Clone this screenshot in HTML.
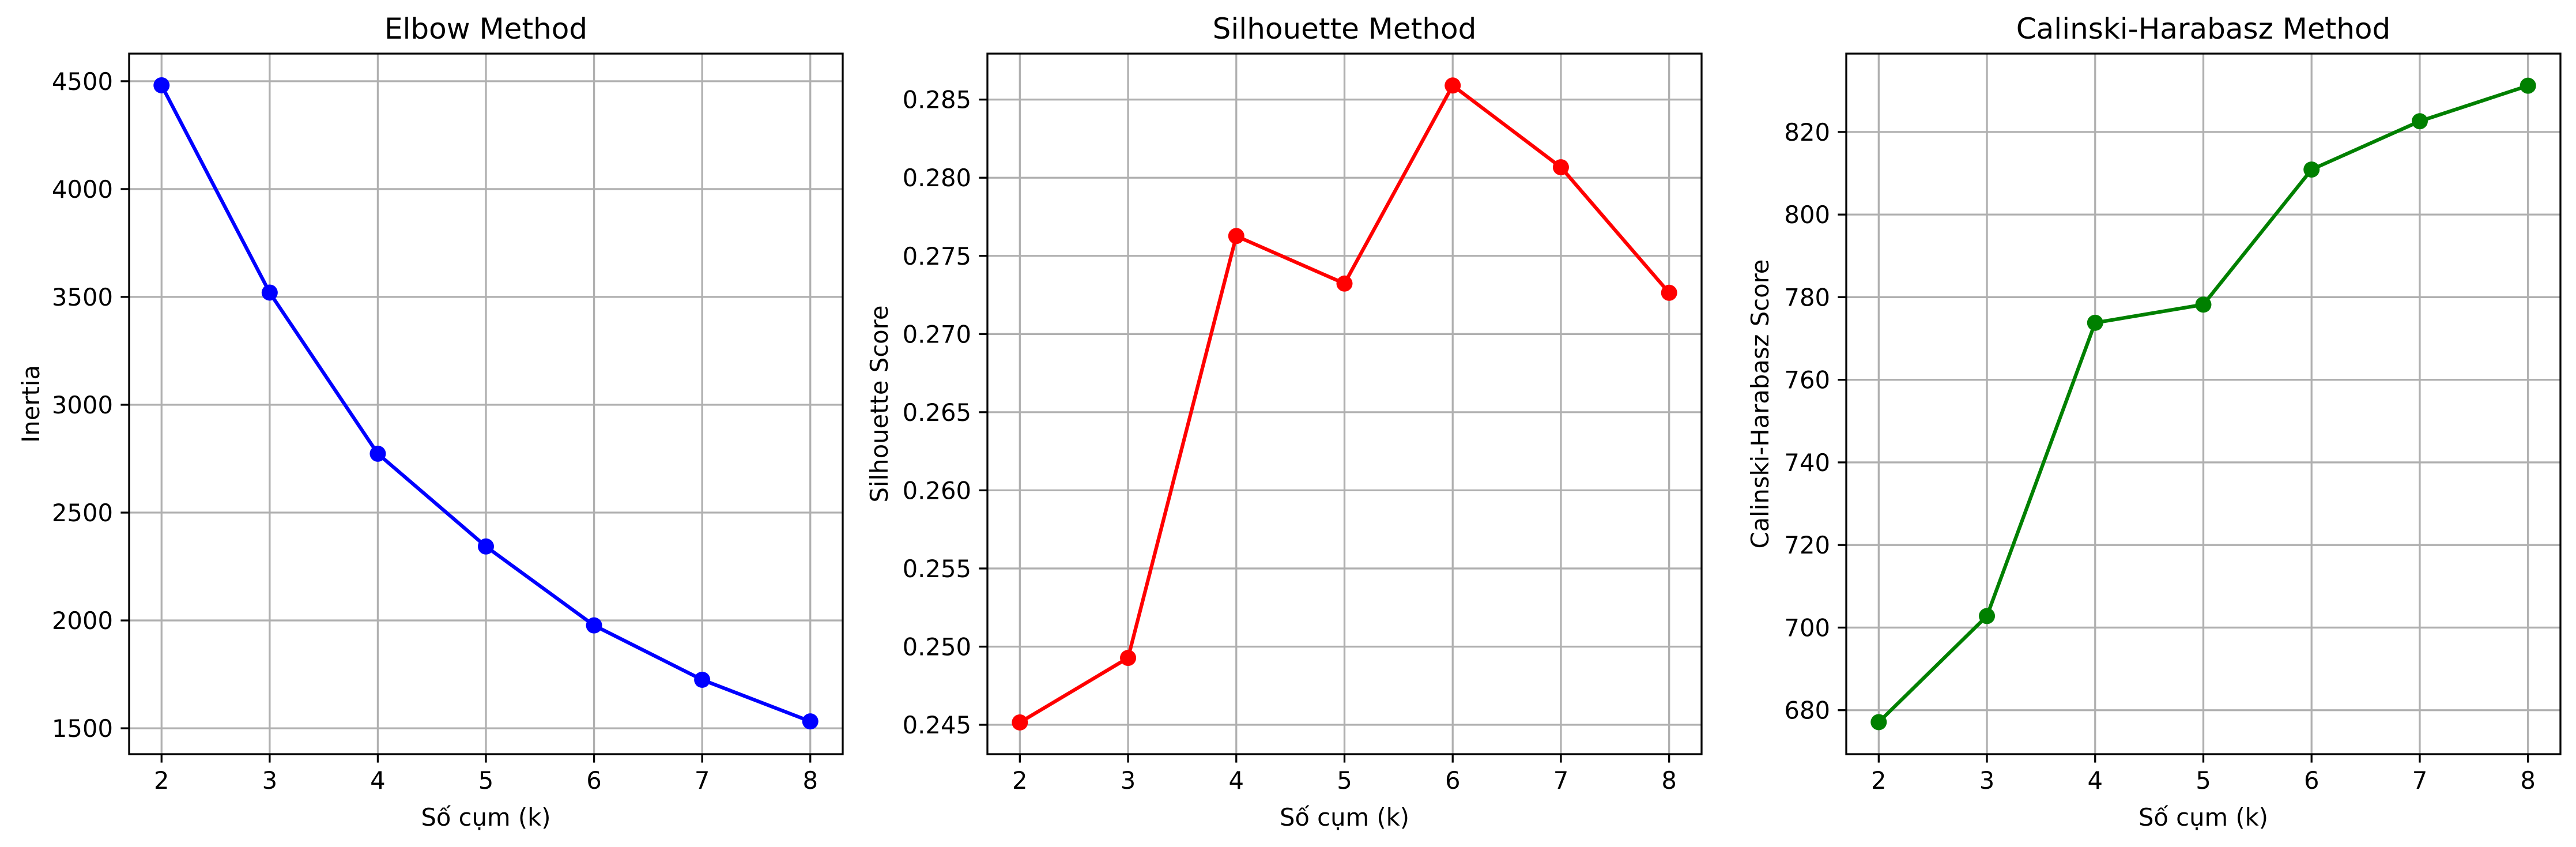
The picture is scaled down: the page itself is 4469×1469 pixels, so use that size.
<!DOCTYPE html>
<html><head><meta charset="utf-8"><style>
html,body{margin:0;padding:0;background:#fff;}
svg{display:block;font-family:"DejaVu Sans","Liberation Sans",sans-serif;}
</style></head><body>
<svg id="fig" width="4469" height="1469" viewBox="0 0 4469 1469" xmlns="http://www.w3.org/2000/svg"></svg>
<script>
const kValues = [2,3,4,5,6,7,8];
const inertiaValues = [4481,3520,2773,2343,1977,1725,1532];
const silhouetteValues = [0.24515,0.24928,0.27627,0.27323,0.2859,0.28067,0.27264];
const chValues = [677.1,702.8,773.8,778.2,810.9,822.6,831.2];
const xTicks = [2,3,4,5,6,7,8];
const inertiaTicks = [1500,2000,2500,3000,3500,4000,4500];
const inertiaTickLabels = ["1500","2000","2500","3000","3500","4000","4500"];
const silTicks = [0.245,0.25,0.255,0.26,0.265,0.27,0.275,0.28,0.285];
const silTickLabels = ["0.245","0.250","0.255","0.260","0.265","0.270","0.275","0.280","0.285"];
const chTicks = [680,700,720,740,760,780,800,820];
const chTickLabels = ["680","700","720","740","760","780","800","820"];

const NS = "http://www.w3.org/2000/svg";
const fig = document.getElementById('fig');
function mk(tag, attrs, parent){
  const e = document.createElementNS(NS, tag);
  for (const k in attrs) e.setAttribute(k, attrs[k]);
  (parent||fig).appendChild(e);
  return e;
}
function panel(cfg){
  const g = mk('g', {});
  
  
  const L=cfg.left, R=cfg.right, T=93, B=1308;
  const xs = v => L + (v - 1.7) / 6.6 * (R - L);
  const ys = v => B - (v - cfg.ymin) / (cfg.ymax - cfg.ymin) * (B - T);
  xTicks.forEach(t => {
    const l = mk('line', {x1:xs(t), x2:xs(t), y1:T, y2:B, stroke:'#b0b0b0', 'stroke-width':3.3}, g);
    
    
  });
  cfg.ticks.forEach(t => {
    const l = mk('line', {x1:L, x2:R, y1:ys(t), y2:ys(t), stroke:'#b0b0b0', 'stroke-width':3.3}, g);
    
    
  });
  const pts = kValues.map((k,i) => xs(k)+','+ys(cfg.values[i])).join(' ');
  const pl = mk('polyline', {points:pts, fill:'none', stroke:cfg.color, 'stroke-width':6.25, 'stroke-linejoin':'round', 'stroke-linecap':'square'}, g);
  
  
  kValues.forEach((k,i) => {
    const c = mk('circle', {cx:xs(k), cy:ys(cfg.values[i]), r:14, fill:cfg.color}, g);
    
    
  });
  const fr = mk('rect', {x:L, y:T, width:R-L, height:B-T, fill:'none', stroke:'#000', 'stroke-width':3.3}, g);
  
  
  xTicks.forEach(t => {
    mk('line', {x1:xs(t), x2:xs(t), y1:B, y2:B+14.6, stroke:'#000', 'stroke-width':3.3}, g);
    const tx = mk('text', {x:xs(t), y:1368, 'font-size':41.7, 'text-anchor':'middle', fill:'#000'}, g);
    tx.textContent = String(t);
    
    
  });
  cfg.ticks.forEach((t,i) => {
    mk('line', {x1:L-14.6, x2:L, y1:ys(t), y2:ys(t), stroke:'#000', 'stroke-width':3.3}, g);
    const tx = mk('text', {x:L-28, y:ys(t)+15, 'font-size':41.7, 'text-anchor':'end', fill:'#000'}, g);
    tx.textContent = cfg.labels[i];
    
    
  });
  const ti = mk('text', {x:(L+R)/2, y:67, 'font-size':50, 'text-anchor':'middle', fill:'#000'}, g);
  ti.textContent = cfg.title;
  
  
  const xl = mk('text', {x:(L+R)/2, y:1432, 'font-size':41.7, 'text-anchor':'middle', fill:'#000'}, g);
  xl.textContent = 'Số cụm (k)';
  
  
  const yc = (T+B)/2;
  const yl = mk('text', {x:cfg.ylx, y:yc, 'font-size':41.7, 'text-anchor':'middle', fill:'#000', transform:'rotate(-90 '+cfg.ylx+' '+yc+')'}, g);
  yl.textContent = cfg.ylabel;
  
  
}
panel({name:'elbow-chart', left:224, right:1462, ymin:1380, ymax:4628, values:inertiaValues, ticks:inertiaTicks, labels:inertiaTickLabels, color:'#0000ff', title:'Elbow Method', ylabel:'Inertia', ylx:68});
panel({name:'silhouette-chart', left:1713, right:2952, ymin:0.24312, ymax:0.28794, values:silhouetteValues, ticks:silTicks, labels:silTickLabels, color:'#ff0000', title:'Silhouette Method', ylabel:'Silhouette Score', ylx:1540});
panel({name:'calinski-harabasz-chart', left:3203, right:4442, ymin:669.35, ymax:838.97, values:chValues, ticks:chTicks, labels:chTickLabels, color:'#008000', title:'Calinski-Harabasz Method', ylabel:'Calinski-Harabasz Score', ylx:3068});
</script>
</body></html>
